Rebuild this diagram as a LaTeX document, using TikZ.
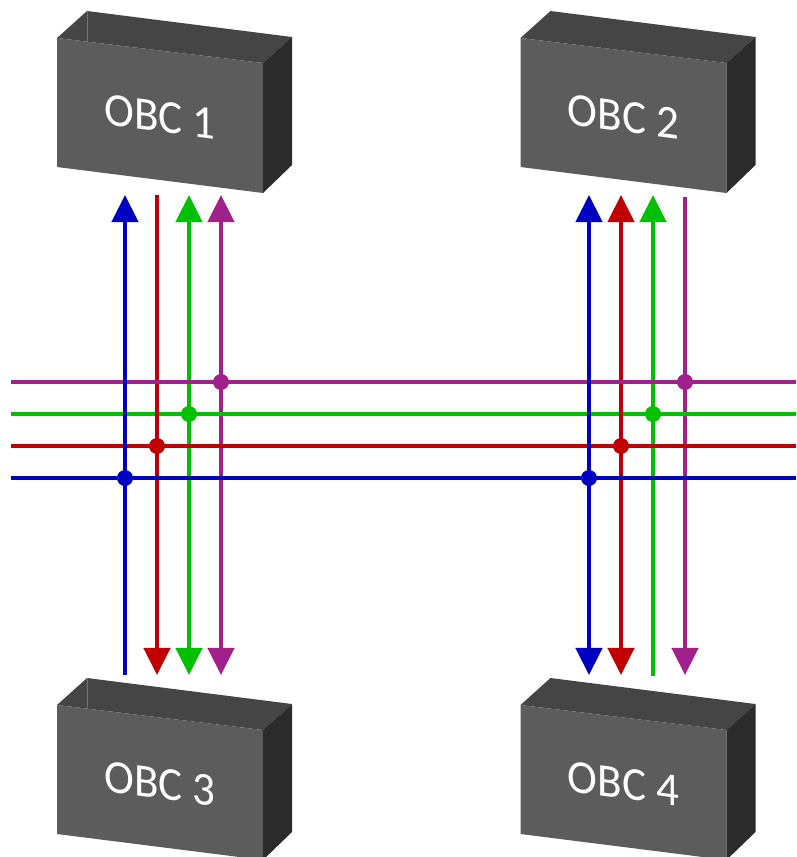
\documentclass[tikz,border=0pt]{standalone}
\usepackage{fontspec}
\setmainfont{Carlito}
\usetikzlibrary{arrows.meta}
\definecolor{busblue}{RGB}{0,0,192}
\definecolor{busred}{RGB}{192,0,0}
\definecolor{busgreen}{RGB}{0,192,0}
\definecolor{buspurple}{RGB}{160,32,140}
\tikzset{
  busline/.style={line width=0.045cm},
  tipin/.style={-{Triangle[length=0.27cm,width=0.26cm]}},
  plain/.style={},
  tap/.style={circle,fill,inner sep=0pt,minimum size=0.16cm},
  obclabel/.style={text=white,font=\fontsize{13.4}{13.4}\selectfont,xscale=0.955,yslant=-0.125,transform shape,inner sep=0pt}
}
\begin{document}
\begin{tikzpicture}[x=0.01cm,y=-0.01cm]
  \clip (0,0) rectangle (796,857);
  % boxes
  \foreach \n/\dx/\dy in {1/0/0, 2/463.5/0, 3/0/667, 4/463.5/667} {
    \begin{scope}[shift={(\dx,\dy)}]
      \fill[black!73] (57,38) -- (87,11) -- (292,37) -- (263,63) -- cycle;
      \fill[black!64] (57,38) -- (263,63) -- (263,193) -- (57,167) -- cycle;
      \fill[black!83] (263,63) -- (292,37) -- (292,165) -- (263,193) -- cycle;
      \node[obclabel] (obc\n) at (160,117) {OBC \n};
    \end{scope}
  }
  \foreach \dy in {0,667} \draw[black!55, line width=0.01cm] (87,11+\dy) -- (87,41+\dy);
  % drops to the boxes
  \foreach \x/\y/\c/\up/\dn/\t/\b in {157/446/busred/plain/tipin/195/675, 189/414/busgreen/tipin/tipin/195/675, 221/382/buspurple/tipin/tipin/195/675,
    621/446/busred/tipin/tipin/195/675, 653/414/busgreen/tipin/plain/195/676, 685/382/buspurple/plain/tipin/197/675} {
    \coordinate (tj\x) at (\x,\y);
    \coordinate (up\x) at (\x,\t);
    \coordinate (dn\x) at (\x,\b);
    \draw[busline,\c,\up] (tj\x) -- (up\x);
    \draw[busline,\c,\dn] (tj\x) -- (dn\x);
  }
  % bus
  \foreach \y/\c in {382/buspurple, 414/busgreen, 446/busred, 478/busblue} {
    \coordinate (w\c) at (11,\y);
    \coordinate (e\c) at (796,\y);
    \draw[busline,\c] (w\c) -- (e\c);
  }
  % on top of the bus
  \foreach \x/\dn in {125/plain, 589/tipin} {
    \coordinate (tj\x) at (\x,478);
    \coordinate (up\x) at (\x,195);
    \coordinate (dn\x) at (\x,675);
    \draw[busline,busblue,tipin] (tj\x) -- (up\x);
    \draw[busline,busblue,\dn] (tj\x) -- (dn\x);
  }
  \foreach \x in {157,621} {
    \coordinate (stub\x) at (\x,400);
    \draw[busline,busred] (tj\x) -- (stub\x);
  }
  \foreach \x/\y/\c in {125/478/busblue, 157/446/busred, 189/414/busgreen, 221/382/buspurple,
    589/478/busblue, 621/446/busred, 653/414/busgreen, 685/382/buspurple}
    \node[tap,\c] (tap\x) at (\x,\y) {};
\end{tikzpicture}
\end{document}
